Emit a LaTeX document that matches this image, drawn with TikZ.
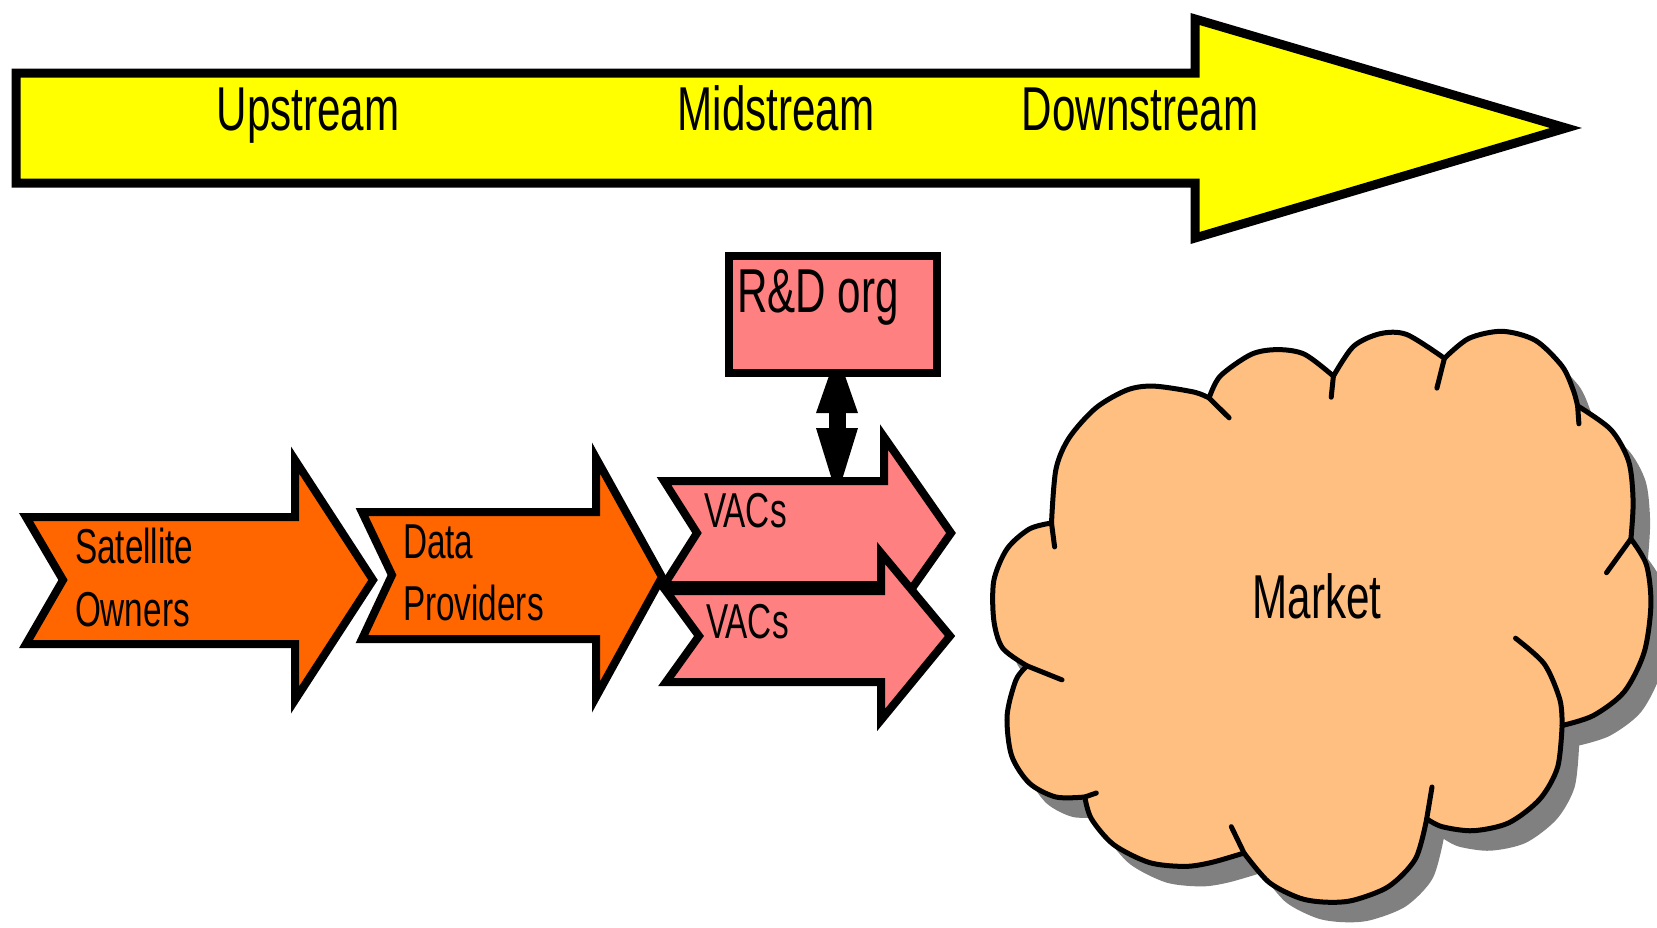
\documentclass[tikz,border=0pt]{standalone}
\usepackage{fontspec}
\setmainfont{Liberation Sans}
\newfontfamily\narrowfont[FakeStretch=0.68]{Liberation Sans}
\usetikzlibrary{arrows.meta}
\pgfdeclarelayer{bg}
\pgfsetlayers{bg,main}
\definecolor{yellowc}{HTML}{FFFF00}
\definecolor{orangec}{HTML}{FF6600}
\definecolor{pinkc}{HTML}{FF8080}
\definecolor{cloudc}{HTML}{FFBF80}
\definecolor{shadowc}{HTML}{808080}
\newcommand\mycloudpath{(1051.5,523.0)
 -- plot[smooth] coordinates {(1051.5,523.0) (1055.9,469.4) (1069.2,437.7) (1095.9,407.9) (1127.0,390.0) (1153.6,386.1) (1193.6,392.0) (1209.1,398.0)}
 -- plot[smooth] coordinates {(1209.1,398.0) (1220.2,376.1) (1251.3,354.3) (1277.9,349.6) (1304.6,354.3) (1333.4,376.1)}
 -- plot[smooth] coordinates {(1333.4,376.1) (1353.4,346.4) (1380.0,333.7) (1406.7,334.5) (1444.4,358.3)}
 -- plot[smooth] coordinates {(1444.4,358.3) (1468.8,338.4) (1502.1,331.3) (1535.4,340.4) (1562.1,366.2) (1573.2,390.0) (1577.6,405.9)}
 -- plot[smooth] coordinates {(1577.6,405.9) (1610.9,429.7) (1628.7,461.5) (1633.1,501.2) (1630.9,538.9)}
 -- plot[smooth] coordinates {(1630.9,538.9) (1646.4,564.7) (1650.9,604.4) (1644.2,652.1) (1624.2,691.8) (1593.2,715.6) (1562.1,725.5)}
 -- plot[smooth] coordinates {(1562.1,725.5) (1557.6,767.2) (1539.9,799.0) (1508.8,822.8) (1473.3,830.7) (1442.2,826.7) (1426.7,818.8)}
 -- plot[smooth] coordinates {(1426.7,818.8) (1415.6,858.5) (1388.9,886.3) (1353.4,900.2) (1326.8,902.2) (1300.1,898.2) (1269.0,882.3) (1244.0,853.0)}
 -- plot[smooth] coordinates {(1244.0,853.0) (1211.3,862.5) (1184.7,866.4) (1149.2,862.5) (1113.6,844.6) (1091.4,818.8) (1084.8,797.0)}
 -- plot[smooth] coordinates {(1084.8,797.0) (1055.9,797.0) (1029.3,783.1) (1011.5,755.3) (1007.1,715.6) (1016.0,679.9) (1027.1,665.9)}
 -- plot[smooth] coordinates {(1027.1,665.9) (1002.6,648.1) (993.8,620.3) (993.8,580.6) (1007.1,548.8) (1029.3,529.0) (1051.5,523.0)}
 -- cycle}
\begin{document}
\begin{tikzpicture}[x=1pt,y=-1pt,
  shapeline/.style={draw=black, line width=8pt, line join=miter},
  bigtext/.style={font=\narrowfont\fontsize{62}{70}\selectfont, inner sep=0pt, outer sep=0pt},
  smalltext/.style={font=\narrowfont\fontsize{49}{56}\selectfont, inner sep=0pt, outer sep=0pt, anchor=base west},
  cloudline/.style={draw=black, line width=5pt, line cap=round, line join=round},
]
\useasboundingbox (0,0) rectangle (1657,927);

% value chain arrow
\path[shapeline, line width=9pt, fill=yellowc] (16,73) -- (1195,73) -- (1195,19) -- (1566,128) -- (1195,238) -- (1195,183) -- (16,183) -- cycle;
\node[bigtext, anchor=base] (up) at (308,130) {Upstream};
\node[bigtext, anchor=base] (mid) at (776,130) {Midstream};
\node[bigtext, anchor=base] (down) at (1140,130) {Downstream};

% satellite owners
\path[shapeline, fill=orangec] (26,517) -- (295,517) -- (295,460) -- (373,580) -- (295,700) -- (295,644) -- (26,644) -- (63,580) -- cycle;
\node[smalltext] (sat1) at (75,563) {Satellite};
\node[smalltext] (sat2) at (75,626) {Owners};

% data providers
\path[shapeline, fill=orangec] (362,512) -- (596,512) -- (596,458) -- (662,577) -- (596,697) -- (596,639) -- (362,639) -- (392,575) -- cycle;
\node[smalltext] (dp1) at (403,558) {Data};
\node[smalltext] (dp2) at (403,620) {Providers};

% VACs
\path[shapeline, fill=pinkc] (664,481) -- (884,481) -- (884,437) -- (951,533) -- (884,628) -- (884,585) -- (664,585) -- (697,533) -- cycle;
\path[shapeline, fill=pinkc] (666,591) -- (881,591) -- (881,553) -- (950,636) -- (881,720) -- (881,682) -- (666,682) -- (699,636) -- cycle;
\node[smalltext] (vac1) at (704,527) {VACs};
\node[smalltext] (vac2) at (706,638) {VACs};
\coordinate (vactop) at (837,481);

% R&D
\node[draw=black, line width=8pt, fill=pinkc, minimum width=208pt, minimum height=117pt, inner sep=0pt] (rd) at (833,314.5) {};
\node[bigtext, anchor=base west] (rdtext) at (737,312) {R\&D org};
\begin{pgfonlayer}{bg}
\draw[line width=17pt, shorten <=-24pt, shorten >=-15pt,
  {Triangle[length=60pt,width=42pt,line width=0pt]}-{Triangle[length=68pt,width=42pt,line width=0pt]}]
  ([xshift=4pt]rd.south) -- (vactop);
\end{pgfonlayer}

% market cloud
\begin{scope}[shift={(17,20)}]
  \fill[shadowc] \mycloudpath;
\end{scope}
\path[cloudline, fill=cloudc] \mycloudpath;
\draw[cloudline] (1051.5,523.0) -- (1054.6,546.9);
\draw[cloudline] (1209.1,398.0) -- (1229.1,417.8);
\draw[cloudline] (1333.4,376.1) -- (1331.2,397.2);
\draw[cloudline] (1444.4,358.3) -- (1436.9,388.1);
\draw[cloudline] (1577.6,405.9) -- (1578.9,423.8);
\draw[cloudline] (1630.9,538.9) -- (1606.5,572.7);
\draw[cloudline] plot[smooth] coordinates {(1562.1,725.5) (1559.9,699.7) (1544.3,664.0) (1515.5,638.2)};
\draw[cloudline] (1426.7,818.8) -- (1432.0,787.0);
\draw[cloudline] (1244.0,853.0) -- (1231.3,826.7);
\draw[cloudline] (1084.8,797.0) -- (1096.3,793.0);
\draw[cloudline] (1027.1,665.9) -- (1062.0,679.9);
\node[bigtext, anchor=base] (market) at (1317,618) {Market};
\end{tikzpicture}
\end{document}
